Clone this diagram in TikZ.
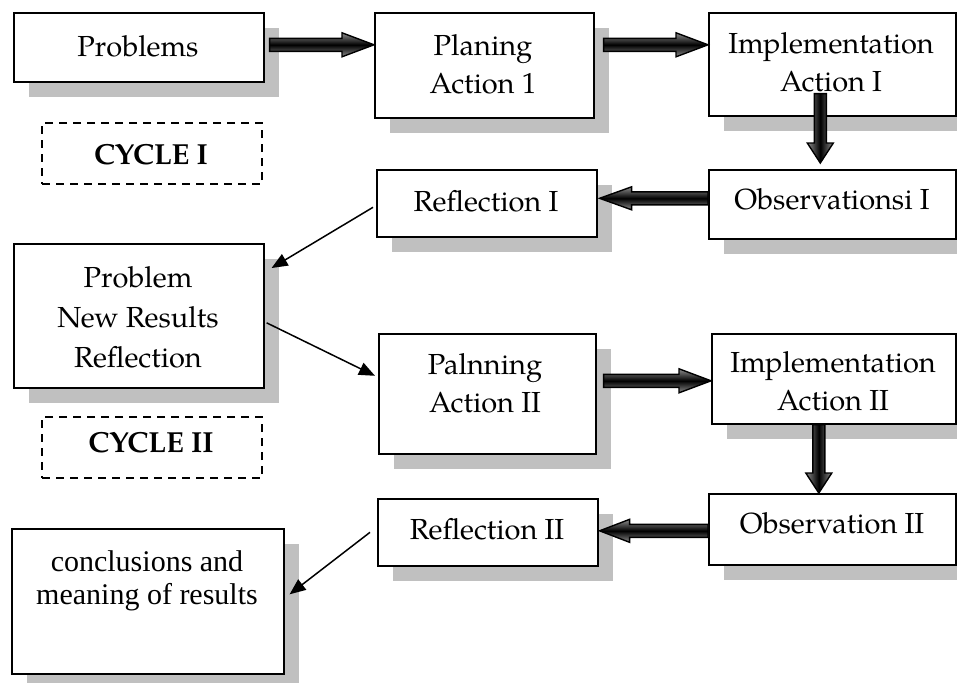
\documentclass[tikz,border=0pt]{standalone}
\usepackage{fontspec}
\setmainfont{TeX Gyre Pagella}
\newfontfamily\timesfont{Liberation Serif}
\usetikzlibrary{calc,arrows.meta,shadows}
\definecolor{shd}{RGB}{192,192,192}
\definecolor{ashd}{RGB}{150,150,150}
\tikzset{
 box/.style={draw=black, line width=0.8pt, fill=white, anchor=north west, inner sep=0pt,
   drop shadow={shadow xshift=7.5pt, shadow yshift=-7.5pt, fill=shd, opacity=1}},
 cyclebox/.style={draw=black, dash pattern=on 4pt off 3pt, line width=1pt, anchor=north west, inner sep=0pt},
 lbl/.style={align=center, font=\fontsize{14.5}{19}\selectfont, inner sep=0pt},
 thinarrow/.style={line width=0.75pt, -{Triangle[length=8pt,width=6.5pt]}},
}
% #1 start, #2 end, #3 dx, #4 dy, #5 shaft half, #6 head half, #7 head length, #8 shading angle
\newcommand\fatarrow[8]{%
 \def\fatpath{($(#1)+({-(#4)*(#5)},{(#3)*(#5)})$)
   -- ($(#2)+({-(#3)*(#7)-(#4)*(#5)},{-(#4)*(#7)+(#3)*(#5)})$)
   -- ($(#2)+({-(#3)*(#7)-(#4)*(#6)},{-(#4)*(#7)+(#3)*(#6)})$)
   -- (#2)
   -- ($(#2)+({-(#3)*(#7)+(#4)*(#6)},{-(#4)*(#7)-(#3)*(#6)})$)
   -- ($(#2)+({-(#3)*(#7)+(#4)*(#5)},{-(#4)*(#7)-(#3)*(#5)})$)
   -- ($(#1)+({(#4)*(#5)},{-(#3)*(#5)})$) -- cycle}%
 \fill[ashd, shift={(3,3)}] \fatpath;
 \draw[line width=0.7pt, top color=black!45, bottom color=black!45, middle color=black, shading angle=#8] \fatpath;
}
\newcommand\bx[5]{\node[box, minimum width={(#4-#2)*0.5pt}, minimum height={(#5-#3)*0.5pt}] (#1) at (#2,#3) {};}
\newcommand\cbx[5]{\node[cyclebox, minimum width={(#4-#2)*0.5pt}, minimum height={(#5-#3)*0.5pt}] (#1) at (#2,#3) {};}
\begin{document}
\begin{tikzpicture}[x=0.5pt,y=-0.5pt]
\useasboundingbox (0,0) rectangle (957,682);
% boxes
\bx{prob}{13}{12}{263}{81}
\bx{plan1}{374}{12}{593}{117}
\bx{imp1}{708}{12}{955}{115}
\cbx{cyc1}{41}{122}{261}{183}
\bx{ref1}{376}{169}{596}{236}
\bx{obs1}{708}{169}{955}{238}
\bx{pnr}{13}{243}{263}{387}
\bx{pa2}{378}{333}{595}{453}
\bx{imp2}{711}{333}{955}{423}
\cbx{cyc2}{41}{416}{261}{477}
\bx{ref2}{377}{498}{597}{565}
\bx{obs2}{708}{493}{955}{564}
\bx{conc}{11}{528}{283}{673}
% texts
\node[lbl] (tprob) at (138,46) {Problems};
\node[lbl] (tplan1) at (483,64) {Planing\\Action 1};
\node[lbl] (timp1) at (831,62) {Implementation\\Action I};
\node[lbl, font=\fontsize{14.5}{19}\selectfont\bfseries] (tcyc1) at (151,155) {CYCLE I};
\node[lbl] (tref1) at (486,201) {Reflection I};
\node[lbl] (tobs1) at (832,199) {Observationsi I};
\node[lbl, font=\fontsize{14.5}{20}\selectfont] (tpnr) at (138,317) {Problem\\New Results\\Reflection};
\node[lbl] (tpa2) at (485,383) {Palnning\\Action II};
\node[lbl] (timp2) at (833,381) {Implementation\\Action II};
\node[lbl, font=\fontsize{14.5}{19}\selectfont\bfseries] (tcyc2) at (151,443) {CYCLE II};
\node[lbl] (tref2) at (487,529) {Reflection II};
\node[lbl] (tobs2) at (832,523) {Observation II};
\node[lbl, font=\timesfont\fontsize{15}{16.5}\selectfont] (tconc) at (147,581) {conclusions and\\meaning of results};
% fat arrow endpoints
\coordinate (a1s) at ($(prob.east)+(5,-2.5)$);
\coordinate (a1t) at (a1s -| plan1.west);
\coordinate (a2s) at ($(plan1.east |- a1s)+(9,0)$);
\coordinate (a2t) at (a2s -| imp1.west);
\coordinate (d1s) at ($(imp1.south)+(-12,-23)$);
\coordinate (d1t) at ($(obs1.north -| d1s)+(0,-6)$);
\coordinate (l1s) at ($(obs1.west)+(0,-6)$);
\coordinate (l1t) at ($(ref1.east |- l1s)+(2,0)$);
\coordinate (a3s) at ($(pa2.east)+(7,-13)$);
\coordinate (a3t) at (a3s -| imp2.west);
\coordinate (d2s) at ($(imp2.south)+(-15,0)$);
\coordinate (d2t) at (d2s |- obs2.north);
\coordinate (l2s) at ($(obs2.west)+(0,1.5)$);
\coordinate (l2t) at ($(ref2.east |- l2s)+(1,0)$);
\fatarrow{a1s}{a1t}{1}{0}{6.5}{12}{32}{0}
\fatarrow{a2s}{a2t}{1}{0}{6.5}{12}{32}{0}
\fatarrow{d1s}{d1t}{0}{1}{6}{13}{20}{90}
\fatarrow{l1s}{l1t}{-1}{0}{6.5}{11.5}{32}{0}
\fatarrow{a3s}{a3t}{1}{0}{6.5}{12}{32}{0}
\fatarrow{d2s}{d2t}{0}{1}{6}{13}{20}{90}
\fatarrow{l2s}{l2t}{-1}{0}{6.5}{11.5}{30}{0}
% thin arrows
\draw[thinarrow] ($(ref1.west)+(-3,4)$) -- ($(pnr.north east)+(7,25)$);
\draw[thinarrow] ($(pnr.east)+(2,7)$) -- ($(pa2.west)+(-3,-18)$);
\draw[thinarrow] ($(ref2.west)+(-7,0)$) -- ($(conc.east)+(5,-7)$);
\end{tikzpicture}
\end{document}
